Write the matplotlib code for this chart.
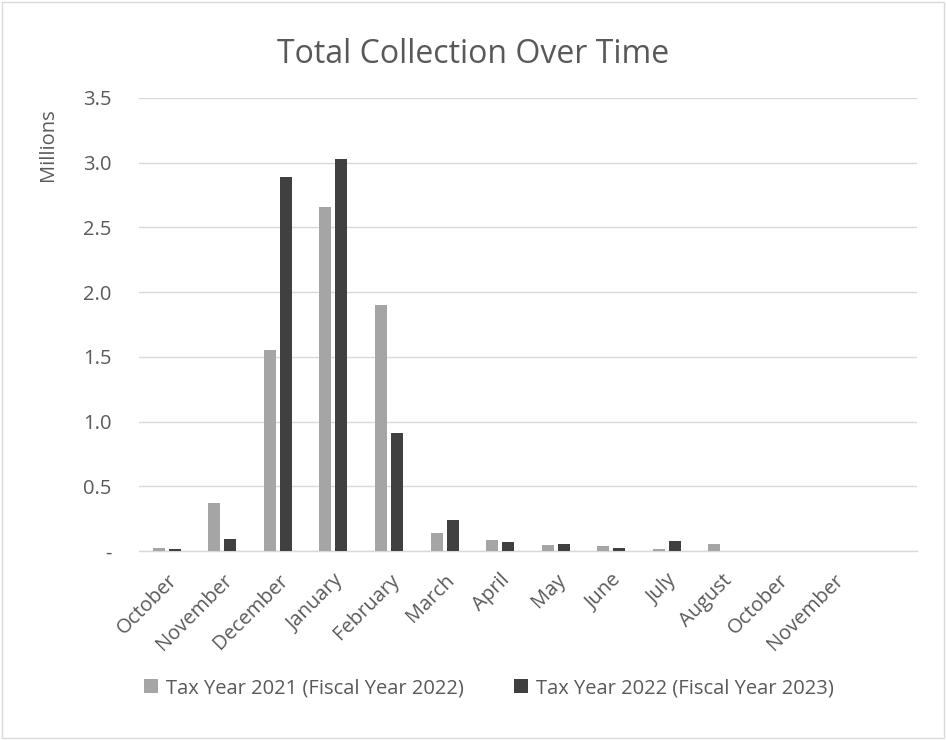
import matplotlib.pyplot as plt
from matplotlib.patches import Rectangle
import numpy as np

plt.rcParams['font.family'] = ['Open Sans', 'DejaVu Sans']

# 14 slots in the source sheet, the last one blank
months = ['October', 'November', 'December', 'January', 'February', 'March',
          'April', 'May', 'June', 'July', 'August', 'October', 'November', '']
ty2021 = [0.026, 0.368, 1.55, 2.66, 1.90, 0.137, 0.083, 0.050, 0.042, 0.019, 0.052, 0, 0, 0]
ty2022 = [0.019, 0.096, 2.89, 3.03, 0.91, 0.236, 0.067, 0.057, 0.026, 0.081, 0, 0, 0, 0]
label1 = 'Tax Year 2021 (Fiscal Year 2022)'
label2 = 'Tax Year 2022 (Fiscal Year 2023)'

txt = '#595959'
fig = plt.figure(figsize=(9.46, 7.4), dpi=100)
ax = fig.add_axes([0.1469, 0.2554, 0.8224, 0.6122])

x = np.arange(len(months))
w = 0.216
ax.bar(x - 0.144, ty2021, width=w, color='#A5A5A5', label=label1, zorder=3)
ax.bar(x + 0.144, ty2022, width=w, color='#404040', label=label2, zorder=3)

ax.set_xlim(-0.5, len(months) - 0.5)
ax.set_ylim(0, 3.5)
yt = np.arange(0, 3.51, 0.5)
ax.set_yticks(yt)
ax.set_yticklabels(['-' if v == 0 else f'{v:.1f}' for v in yt])
ax.set_xticks(x)
ax.set_xticklabels(months, rotation=45, ha='right', rotation_mode='anchor')
ax.tick_params(length=0, colors=txt, labelsize=14.5)
ax.tick_params(axis='y', pad=20)
ax.tick_params(axis='x', pad=14)
ax.grid(axis='y', color='#D9D9D9', linewidth=1, zorder=0)
for s in ['top', 'right', 'left']:
    ax.spines[s].set_visible(False)
ax.spines['bottom'].set_color('#D9D9D9')
ax.spines['bottom'].set_linewidth(1)

fig.text(0.0507, 0.804, 'Millions', rotation=90, ha='center', va='center',
         color=txt, fontsize=14.5)
fig.text(0.5, 0.9149, 'Total Collection Over Time', ha='center', va='baseline',
         fontsize=23, color=txt)

fig.legend(loc='center', bbox_to_anchor=(0.517, 0.07), ncol=2, frameon=False,
           fontsize=14.5, labelcolor=txt, handlelength=0.7, handleheight=0.7,
           columnspacing=2.5, handletextpad=0.4)

fig.patches.append(Rectangle((0.002, 0.003), 0.996, 0.994, transform=fig.transFigure,
                             fill=False, edgecolor='#D9D9D9', linewidth=1))

fig.savefig('out.png', dpi=100)
